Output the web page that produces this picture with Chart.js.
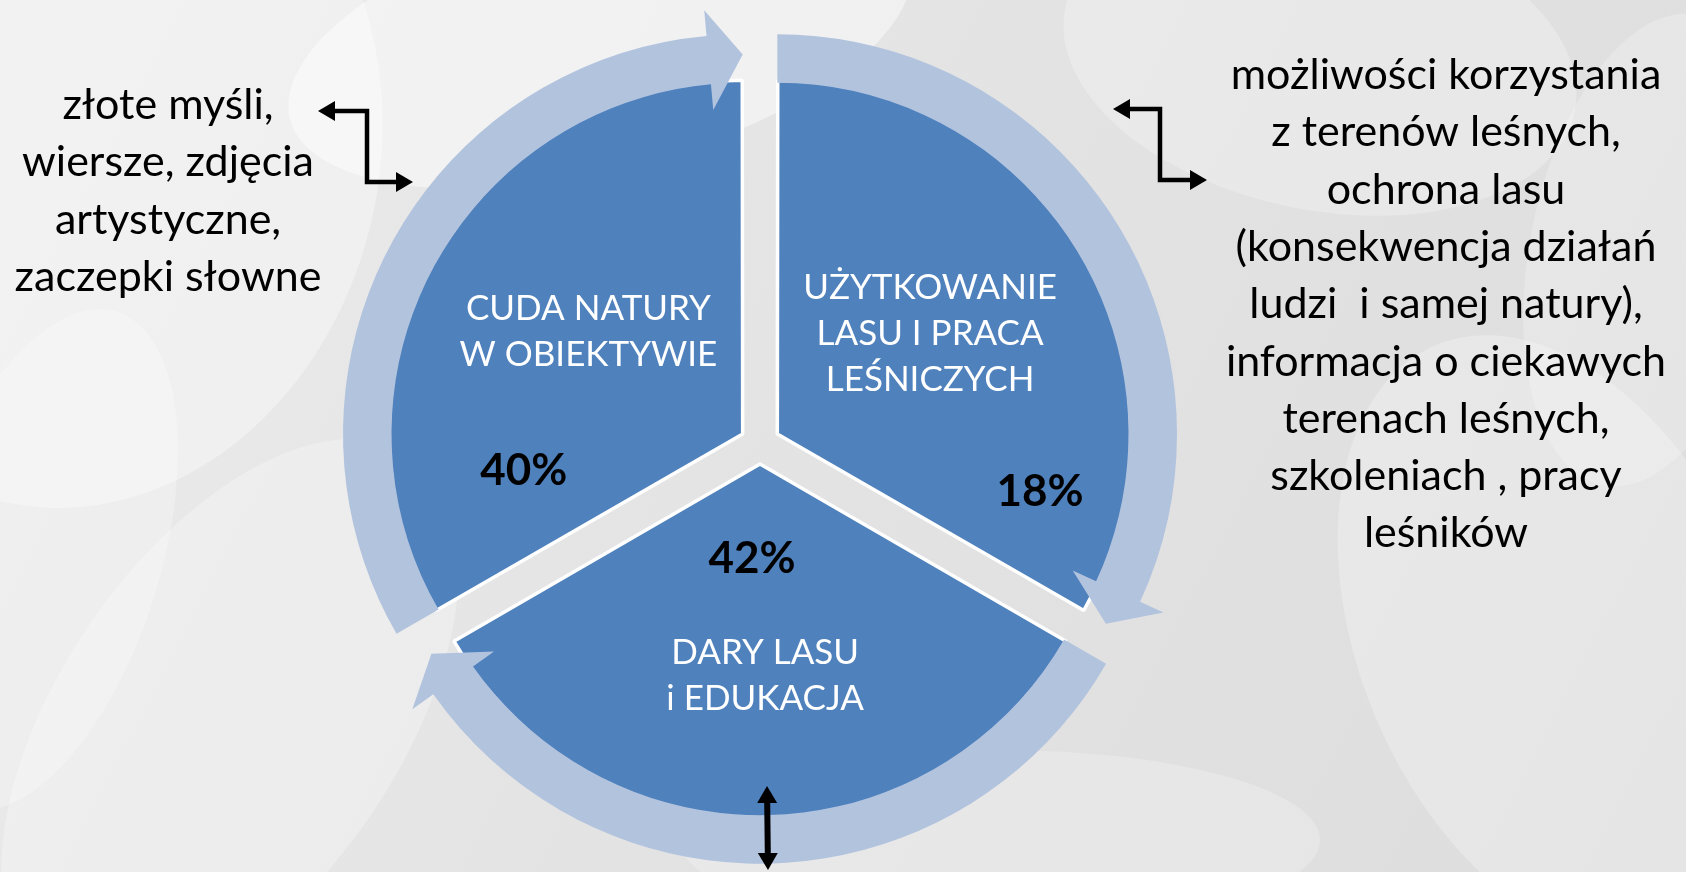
<!DOCTYPE html>
<html><head><meta charset="utf-8">
<script src="https://cdn.jsdelivr.net/npm/chart.js@4.4.0/dist/chart.umd.min.js"></script>
<style>html,body{margin:0;padding:0;background:#e4e4e4;overflow:hidden}canvas{display:block}</style>
</head><body><canvas id="c" width="1686" height="872"></canvas>
<script>
// ---- data ----
const categories = ['CUDA NATURY\nW OBIEKTYWIE', 'UŻYTKOWANIE\nLASU I PRACA\nLEŚNICZYCH', 'DARY LASU\ni EDUKACJA'];
const percentLabels = ['40%', '18%', '42%'];
const segmentSizes = [1, 1, 1];
const leftNote = ['złote myśli,', 'wiersze, zdjęcia', 'artystyczne,', 'zaczepki słowne'];
const rightNote = ['możliwości korzystania', 'z terenów leśnych,', 'ochrona lasu', '(konsekwencja działań', 'ludzi  i samej natury),', 'informacja o ciekawych', 'terenach leśnych,', 'szkoleniach , pracy', 'leśników'];

// ---- layout / style ----
const BLUE = '#4F81BD', RING = '#B2C3DE';
const FONT = 'Lato, "Open Sans", sans-serif';
const nameLayout = [{d: 3.5, r: 185}, {d: -3.4, r: 183}, {d: -1.4, r: 212}];
const pctLayout = [{d: -39.6, r: 222}, {d: 42.4, r: 269}, {d: 4.8, r: 95}];

function segGeom(el) {
  const o = (el.options.offset || 0) / 4;
  const mid = (el.startAngle + el.endAngle) / 2;
  const circ = el.endAngle - el.startAngle;
  const ro = o * (1 - Math.sin(Math.min(Math.PI, circ)));
  return {cx: el.x + Math.cos(mid) * o, cy: el.y + Math.sin(mid) * o, mid: mid,
          a0: el.startAngle, a1: el.endAngle, rIn: el.innerRadius + ro, rOut: el.outerRadius + ro};
}
function pt(cx, cy, r, a) { return [cx + r * Math.cos(a), cy + r * Math.sin(a)]; }

function ringArrow(ctx, g) {
  const rIn = g.rIn - 2.5, rOut = g.rOut;
  const rm = (rIn + rOut) / 2, half = 50;
  const headAng = 34 / rm;
  const aB = g.a1 - headAng;
  ctx.beginPath();
  ctx.arc(g.cx, g.cy, rOut, g.a0, aB, false);
  let p = pt(g.cx, g.cy, rm + half, aB); ctx.lineTo(p[0], p[1]);
  p = pt(g.cx, g.cy, rm + 4, g.a1); ctx.lineTo(p[0], p[1]);
  p = pt(g.cx, g.cy, rm - half, aB); ctx.lineTo(p[0], p[1]);
  ctx.arc(g.cx, g.cy, rIn, aB, g.a0, true);
  ctx.closePath();
  ctx.fillStyle = RING;
  ctx.fill();
}

function head(ctx, x, y, ang) {
  const L = 17, W = 10;
  ctx.beginPath();
  ctx.moveTo(x, y);
  ctx.lineTo(x - L * Math.cos(ang) + W * Math.sin(ang), y - L * Math.sin(ang) - W * Math.cos(ang));
  ctx.lineTo(x - L * Math.cos(ang) - W * Math.sin(ang), y - L * Math.sin(ang) + W * Math.cos(ang));
  ctx.closePath();
  ctx.fill();
}
function connector(ctx, pts, lw) {
  ctx.save();
  ctx.strokeStyle = '#000'; ctx.fillStyle = '#000'; ctx.lineWidth = lw; ctx.lineJoin = 'miter';
  const n = pts.length;
  const a0 = Math.atan2(pts[0][1] - pts[1][1], pts[0][0] - pts[1][0]);
  const a1 = Math.atan2(pts[n-1][1] - pts[n-2][1], pts[n-1][0] - pts[n-2][0]);
  ctx.beginPath();
  ctx.moveTo(pts[0][0] - 12 * Math.cos(a0), pts[0][1] - 12 * Math.sin(a0));
  for (let i = 1; i < n - 1; i++) ctx.lineTo(pts[i][0], pts[i][1]);
  ctx.lineTo(pts[n-1][0] - 12 * Math.cos(a1), pts[n-1][1] - 12 * Math.sin(a1));
  ctx.stroke();
  head(ctx, pts[0][0], pts[0][1], a0);
  head(ctx, pts[n-1][0], pts[n-1][1], a1);
  ctx.restore();
}

const decor = {
  id: 'decor',
  beforeDraw(chart) {
    const ctx = chart.ctx, W = chart.width, H = chart.height;
    ctx.save();
    const g = ctx.createLinearGradient(0, 0, W, H);
    g.addColorStop(0, '#ececec'); g.addColorStop(0.5, '#e3e3e3'); g.addColorStop(1, '#dddddd');
    ctx.fillStyle = g; ctx.fillRect(0, 0, W, H);
    const blobs = [[80, 150, 300, 360, 0.2, 0.35], [600, 40, 320, 130, -0.25, 0.45], [230, 720, 170, 320, 0.6, 0.28],
                   [1320, 60, 260, 150, 0.2, 0.25], [1560, 640, 200, 320, -0.4, 0.25], [1000, 840, 320, 90, 0, 0.22],
                   [40, 560, 120, 260, 0.3, 0.25], [1650, 250, 120, 240, 0.2, 0.22]];
    for (const b of blobs) {
      ctx.beginPath(); ctx.ellipse(b[0], b[1], b[2], b[3], b[4], 0, Math.PI * 2);
      ctx.fillStyle = 'rgba(255,255,255,' + b[5] + ')'; ctx.fill();
    }
    ctx.restore();
  },
  afterDatasetsDraw(chart) {
    const ctx = chart.ctx;
    ctx.save();
    chart.getDatasetMeta(0).data.forEach(el => ringArrow(ctx, segGeom(el)));
    const pie = chart.getDatasetMeta(1).data;
    ctx.textAlign = 'center'; ctx.textBaseline = 'middle';
    pie.forEach((el, i) => {
      const s = segGeom(el);
      const a = s.mid + nameLayout[i].d * Math.PI / 180;
      const x = s.cx + nameLayout[i].r * Math.cos(a), y = s.cy + nameLayout[i].r * Math.sin(a);
      const lines = categories[i].split('\n');
      ctx.fillStyle = '#FFFFFF'; ctx.font = '35px ' + FONT;
      lines.forEach((t, k) => ctx.fillText(t, x, y + (k - (lines.length - 1) / 2) * 46));
      const b = s.mid + pctLayout[i].d * Math.PI / 180;
      ctx.fillStyle = '#000'; ctx.font = 'bold 44px ' + FONT;
      ctx.fillText(percentLabels[i], s.cx + pctLayout[i].r * Math.cos(b), s.cy + pctLayout[i].r * Math.sin(b));
    });
    ctx.textBaseline = 'alphabetic';
    ctx.fillStyle = '#000'; ctx.font = '43px ' + FONT;
    leftNote.forEach((t, k) => ctx.fillText(t, 168, 119 + k * 57.3));
    rightNote.forEach((t, k) => ctx.fillText(t, 1446, 89 + k * 57.3));
    connector(ctx, [[318, 111], [367, 111], [367, 182], [413, 182]], 4.5);
    connector(ctx, [[1113, 109], [1160, 109], [1160, 180], [1207, 180]], 4.5);
    connector(ctx, [[767, 786], [768, 870]], 6);
    ctx.restore();
  }
};

new Chart(document.getElementById('c'), {
  type: 'pie',
  data: {
    labels: categories.map(c => c.replace(/\n/g, ' ')),
    datasets: [
      {label: 'cykl', data: segmentSizes, weight: 46, backgroundColor: 'rgba(0,0,0,0)', borderWidth: 0, offset: 80},
      {label: 'obszary', data: segmentSizes, weight: 351, backgroundColor: BLUE, borderColor: '#FFFFFF', borderWidth: 3.5, offset: 80}
    ]
  },
  options: {
    responsive: false, animation: false, events: [],
    radius: 397, rotation: -120,
    layout: {padding: {left: 0, right: 166, top: 16, bottom: 0}},
    plugins: {legend: {display: false}, tooltip: {enabled: false}}
  },
  plugins: [decor]
});
</script>
</body></html>
